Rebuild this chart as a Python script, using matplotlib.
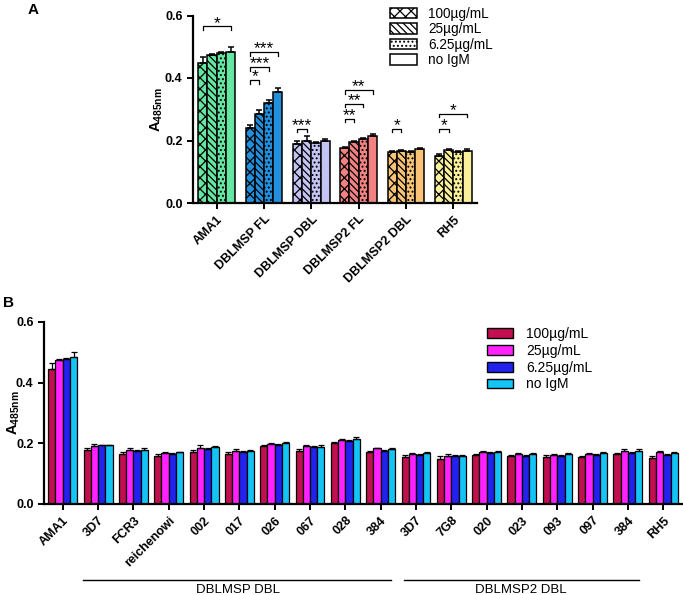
import matplotlib
matplotlib.use('Agg')
import matplotlib.pyplot as plt
from matplotlib.patches import Patch
import numpy as np

plt.rcParams['font.family'] = ['Liberation Sans', 'DejaVu Sans']
plt.rcParams['hatch.color'] = 'black'
plt.rcParams['hatch.linewidth'] = 0.9

# ---- panel A data ----
a_groups = ['AMA1', 'DBLMSP FL', 'DBLMSP DBL', 'DBLMSP2 FL', 'DBLMSP2 DBL', 'RH5']
a_100 = [0.447, 0.240, 0.188, 0.175, 0.163, 0.152]
a_25 = [0.474, 0.286, 0.200, 0.195, 0.168, 0.170]
a_625 = [0.479, 0.321, 0.192, 0.206, 0.163, 0.163]
a_no = [0.484, 0.356, 0.200, 0.216, 0.174, 0.168]
a_100_err = [0.019, 0.009, 0.012, 0.004, 0.004, 0.005]
a_25_err = [0.003, 0.013, 0.013, 0.003, 0.003, 0.004]
a_625_err = [0.003, 0.010, 0.003, 0.003, 0.004, 0.003]
a_no_err = [0.016, 0.012, 0.004, 0.004, 0.003, 0.004]
a_colors = ['#66e6a3', '#2290dc', '#c4c4f4', '#f28282', '#f9c476', '#fbf19c']

# significance: (group index, bar from, bar to, height, label)
a_sig = [(0, 0, 3, 0.565, '*'),
         (1, 0, 1, 0.393, '*'), (1, 0, 2, 0.436, '***'), (1, 0, 3, 0.484, '***'),
         (2, 0, 1, 0.238, '***'),
         (3, 0, 1, 0.270, '**'), (3, 0, 2, 0.318, '**'), (3, 0, 3, 0.361, '**'),
         (4, 0, 1, 0.238, '*'),
         (5, 0, 1, 0.238, '*'), (5, 0, 3, 0.286, '*')]

# ---- panel B data ----
b_groups = ['AMA1', '3D7', 'FCR3', 'reichenowi', '002', '017', '026', '067', '028', '384',
            '3D7', '7G8', '020', '023', '093', '097', '384', 'RH5']
b_100 = [0.446, 0.178, 0.165, 0.159, 0.171, 0.166, 0.192, 0.175, 0.200, 0.172,
         0.156, 0.149, 0.161, 0.158, 0.156, 0.155, 0.164, 0.151]
b_25 = [0.476, 0.192, 0.178, 0.167, 0.185, 0.175, 0.198, 0.191, 0.211, 0.183,
        0.164, 0.159, 0.171, 0.165, 0.162, 0.164, 0.176, 0.171]
b_625 = [0.478, 0.193, 0.175, 0.164, 0.180, 0.170, 0.195, 0.189, 0.207, 0.176,
         0.163, 0.158, 0.169, 0.157, 0.158, 0.162, 0.168, 0.163]
b_no = [0.484, 0.193, 0.178, 0.170, 0.189, 0.175, 0.201, 0.189, 0.213, 0.181,
        0.169, 0.159, 0.171, 0.164, 0.165, 0.167, 0.174, 0.167]
b_100_err = [0.019, 0.006, 0.007, 0.006, 0.007, 0.005, 0.003, 0.005, 0.003, 0.003,
             0.004, 0.008, 0.003, 0.004, 0.005, 0.003, 0.003, 0.008]
b_25_err = [0.003, 0.006, 0.006, 0.005, 0.009, 0.007, 0.003, 0.003, 0.003, 0.003,
            0.004, 0.006, 0.004, 0.004, 0.004, 0.003, 0.004, 0.004]
b_625_err = [0.003, 0.003, 0.004, 0.003, 0.003, 0.005, 0.003, 0.003, 0.005, 0.003,
             0.003, 0.004, 0.004, 0.003, 0.003, 0.004, 0.005, 0.003]
b_no_err = [0.016, 0.003, 0.006, 0.003, 0.003, 0.003, 0.003, 0.005, 0.007, 0.005,
            0.003, 0.004, 0.003, 0.003, 0.003, 0.005, 0.007, 0.005]
b_colors = ['#c0104f', '#ff22ff', '#2222ee', '#14c4f4']

conc_labels = ['100\u00b5g/mL', '25\u00b5g/mL', '6.25\u00b5g/mL', 'no IgM']
hatches = ['xxx', '\\\\\\\\\\', '....', '']


def style_axis(ax):
    for s in ['top', 'right']:
        ax.spines[s].set_visible(False)
    for s in ['left', 'bottom']:
        ax.spines[s].set_linewidth(1.6)
    ax.tick_params(width=1.4, length=4, labelsize=9)
    ax.set_ylim(0, 0.6)
    ax.set_yticks([0.0, 0.2, 0.4, 0.6])
    ax.set_yticklabels(['0.0', '0.2', '0.4', '0.6'], fontweight='bold')
    ax.set_ylabel('A$_{\\mathregular{485nm}}$', fontsize=10.5, fontweight='bold')


fig = plt.figure(figsize=(6.83, 5.95), dpi=100)

# ---------- panel A ----------
axA = fig.add_axes([193 / 683, 1 - 203 / 595, 284 / 683, 187.5 / 595])
style_axis(axA)
xa = np.arange(len(a_groups))
w = 0.195
offs = (np.arange(4) - 1.5) * w
a_vals = [a_100, a_25, a_625, a_no]
a_errs = [a_100_err, a_25_err, a_625_err, a_no_err]
for k in range(4):
    axA.bar(xa + offs[k], a_vals[k], w, color=a_colors, edgecolor='black',
            linewidth=1.1, hatch=hatches[k], zorder=2)
    axA.errorbar(xa + offs[k], a_vals[k], yerr=[np.zeros(len(xa)), a_errs[k]],
                 fmt='none', ecolor='black', elinewidth=1.1, capsize=2.5,
                 capthick=1.1, zorder=3)
for g, b1, b2, h, lab in a_sig:
    x1 = xa[g] + offs[b1]
    x2 = xa[g] + offs[b2]
    axA.plot([x1, x1, x2, x2], [h - 0.012, h, h, h - 0.012], color='black', lw=0.9)
    axA.annotate(lab, ((x1 + x2) / 2, h), xytext=(0, -1.0), textcoords='offset points',
                 ha='center', va='baseline', fontsize=12.5)
axA.set_xlim(-0.5, len(a_groups) - 0.5)
axA.set_xticks(xa)
axA.set_xticklabels(a_groups, rotation=45, ha='right', rotation_mode='anchor',
                    fontweight='bold', fontsize=9)
axA.yaxis.set_label_coords(-0.10, 0.5)

handlesA = [Patch(facecolor='white', edgecolor='black', hatch=hatches[k], linewidth=1.1)
            for k in range(4)]
fig.legend(handlesA, conc_labels, loc='upper left', bbox_to_anchor=(390 / 683, 1 - 7 / 595),
           frameon=False, fontsize=9.8, handlelength=2.0, handleheight=0.8,
           labelspacing=0.1, handletextpad=0.8, borderaxespad=0, borderpad=0)

# ---------- panel B ----------
axB = fig.add_axes([44 / 683, 1 - 504 / 595, 638 / 683, 182 / 595])
style_axis(axB)
xb = np.arange(len(b_groups))
wb = 0.205
offsb = (np.arange(4) - 1.5) * wb
b_vals = [b_100, b_25, b_625, b_no]
b_errs = [b_100_err, b_25_err, b_625_err, b_no_err]
for k in range(4):
    axB.bar(xb + offsb[k], b_vals[k], wb, color=b_colors[k], edgecolor='black',
            linewidth=0.9, zorder=2)
    axB.errorbar(xb + offsb[k], b_vals[k], yerr=[np.zeros(len(xb)), b_errs[k]],
                 fmt='none', ecolor='black', elinewidth=0.9, capsize=2,
                 capthick=0.9, zorder=3)
axB.set_xlim(-0.53, len(b_groups) - 0.47)
axB.set_xticks(xb)
axB.set_xticklabels(b_groups, rotation=45, ha='right', rotation_mode='anchor',
                    fontweight='bold', fontsize=9)
axB.yaxis.set_label_coords(-0.035, 0.5)

handlesB = [Patch(facecolor=b_colors[k], edgecolor='black', linewidth=1.0) for k in range(4)]
fig.legend(handlesB, conc_labels, loc='upper left', bbox_to_anchor=(487 / 683, 1 - 327 / 595),
           frameon=False, fontsize=10, handlelength=1.9, handleheight=0.7,
           labelspacing=0.2, handletextpad=0.9, borderaxespad=0, borderpad=0)

# group lines under panel B
fig.add_artist(plt.Line2D([83 / 683, 391 / 683], [1 - 580 / 595] * 2, color='black', lw=1.0))
fig.add_artist(plt.Line2D([404 / 683, 639 / 683], [1 - 580 / 595] * 2, color='black', lw=1.0))
fig.text(238 / 683, 1 - 590 / 595, 'DBLMSP DBL', ha='center', va='center', fontsize=9.5)
fig.text(521 / 683, 1 - 590 / 595, 'DBLMSP2 DBL', ha='center', va='center', fontsize=9.5)

fig.text(33 / 683, 1 - 10 / 595, 'A', fontsize=11, fontweight='bold', ha='center', va='center')
fig.text(9 / 683, 1 - 303 / 595, 'B', fontsize=11, fontweight='bold', ha='center', va='center')

fig.savefig('out.png', dpi=100)
